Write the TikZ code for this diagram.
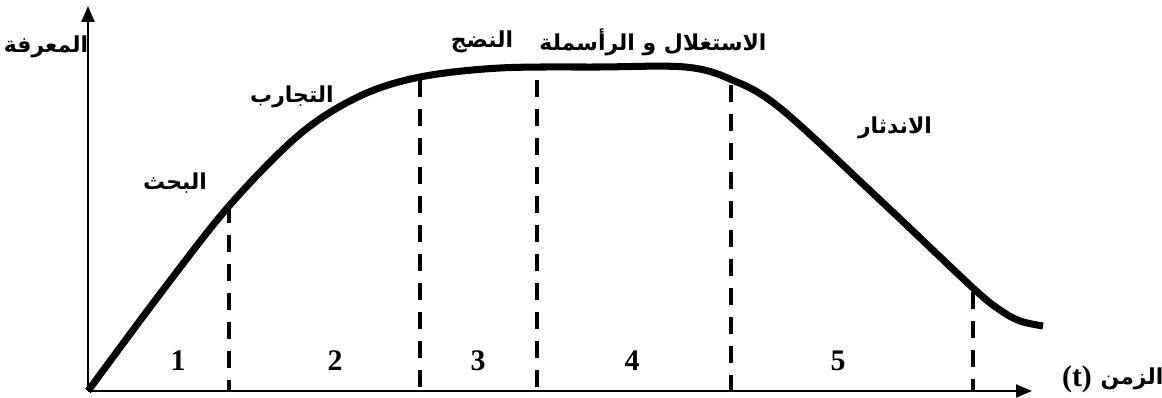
\documentclass[tikz,border=0pt]{standalone}
\usepackage{fontspec}
\setmainfont{Liberation Serif}
\newfontfamily\arabicfont[Script=Arabic]{DejaVu Sans}
\TeXXeTstate=1
\usetikzlibrary{arrows.meta}
\newcommand{\ar}[1]{{\arabicfont\bfseries\beginR #1\endR}}

\begin{document}
\begin{tikzpicture}[
  x=0.02cm, y=0.02cm,
  font=\fontsize{17}{19}\selectfont\bfseries,
  >={Triangle[length=3.2mm, width=2.6mm]},
  axis/.style={line width=1.2pt, ->},
  curve/.style={line width=4pt, line join=round},
  phase/.style={line width=2pt, dash pattern=on 3.4mm off 2.4mm},
  lab/.style={inner sep=0pt, font=\fontsize{12.5}{14}\selectfont},
  num/.style={inner sep=0pt},
]
\useasboundingbox (0,0) rectangle (1162,398);

% axes
\coordinate (O) at (88,7);
\coordinate (ytop) at (88,392);
\coordinate (xend) at (1032,7);
\draw[axis] (O) -- (ytop);
\draw[axis] (O) -- (xend);

% knowledge curve
\draw[curve] plot[smooth, tension=0.55] coordinates {
  (88,7) (160,104) (229,192) (300,264) (360,302) (420,321) (500,330)
  (600,331) (685,331) (730,319) (780,290) (880,198)
  (973,110) (1000,88) (1020,77) (1043,72)};

% phase borders
\foreach \px/\py/\nm in {229/192/b1, 420/318/b2, 537/318/b3, 731/313/b4, 973/106/b5}{
  \coordinate (\nm top) at (\px,\py);
  \coordinate (\nm bot) at (\px,7);
  \draw[phase] (\nm top) -- (\nm bot);
}

% phase numbers
\foreach \px/\n in {178/1, 335/2, 478/3, 632/4, 838/5}
  \node[num] (n\n) at (\px,37) {\n};

% labels
\node[lab] (yl) at (46,351) {\ar{المعرفة}};
\node[lab] (research) at (175,215) {\ar{البحث}};
\node[lab] (trials) at (292,301) {\ar{التجارب}};
\node[lab] (mature) at (482,356) {\ar{النضج}};
\node[lab] (exploit) at (653,356) {\ar{الاستغلال و الرأسملة}};
\node[lab] (decline) at (895,270) {\ar{الاندثار}};
\node[num] (tl) at (1077,19) {(t)};
\node[lab] (xl) at (1132,19) {\ar{الزمن}};

\end{tikzpicture}
\end{document}
